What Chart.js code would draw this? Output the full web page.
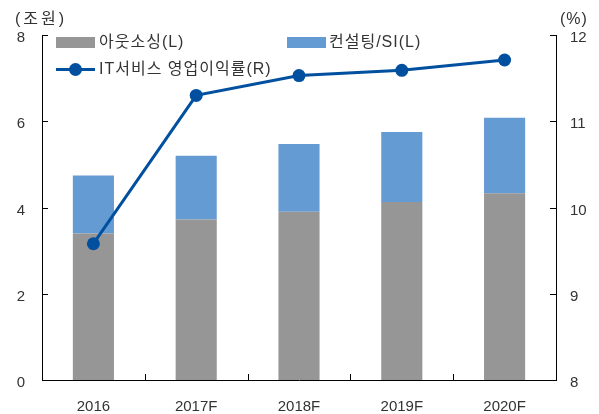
<!DOCTYPE html>
<html>
<head>
<meta charset="utf-8">
<script src="https://cdn.jsdelivr.net/npm/chart.js@4"></script>
<style>
  html, body { margin: 0; padding: 0; background: #fff; }
  #wrap { width: 599px; height: 414px; }
</style>
</head>
<body>
<div id="wrap"><canvas id="chart"></canvas></div>
<script>
// 데이터
const categories = ['2016', '2017F', '2018F', '2019F', '2020F'];
const outsourcing = [3.40, 3.72, 3.90, 4.13, 4.33];   // 아웃소싱 (조원)
const consulting = [1.34, 1.48, 1.57, 1.62, 1.75];    // 컨설팅/SI (조원)
const margin = [9.58, 11.30, 11.53, 11.59, 11.71];    // IT서비스 영업이익률 (%)
const leftTicks = [0, 2, 4, 6, 8];
const rightTicks = [8, 9, 10, 11, 12];

const FONT = '"Liberation Sans", Arial, "Noto Sans CJK KR", sans-serif';
const TXT = '#333333';
const GREY = '#969696';
const BLUE = '#659bd3';
const NAVY = '#00509f';

// 안쪽 눈금, 범례, 단위 표시
const decoPlugin = {
    id: 'deco',
    afterDraw(chart) {
        const ctx = chart.ctx;
        const x = chart.scales.x, y = chart.scales.y, y1 = chart.scales.y1;
        ctx.save();
        ctx.strokeStyle = '#000';
        ctx.lineWidth = 1;
        ctx.beginPath();
        leftTicks.forEach(v => {
            const py = Math.round(y.getPixelForValue(v)) + 0.5;
            ctx.moveTo(x.left, py); ctx.lineTo(x.left + 6, py);
        });
        rightTicks.forEach(v => {
            const py = Math.round(y1.getPixelForValue(v)) + 0.5;
            ctx.moveTo(x.right, py); ctx.lineTo(x.right - 6, py);
        });
        for (let i = 1; i < categories.length; i++) {
            const px = Math.round((x.getPixelForValue(i - 1) + x.getPixelForValue(i)) / 2) + 0.5;
            ctx.moveTo(px, y.bottom); ctx.lineTo(px, y.bottom - 6);
        }
        ctx.stroke();

        // 단위
        ctx.fillStyle = TXT;
        ctx.font = '16px ' + FONT;
        ctx.textBaseline = 'middle';
        ctx.textAlign = 'left';
        ctx.letterSpacing = '3px';
        ctx.fillText('(조원)', 15, 20);
        ctx.letterSpacing = '1px';
        ctx.fillText('(%)', 560, 20);

        // 범례
        const ds = chart.data.datasets;
        ctx.fillStyle = ds[0].backgroundColor;
        ctx.fillRect(56, 37, 39, 11);
        ctx.fillStyle = ds[1].backgroundColor;
        ctx.fillRect(287, 37, 39, 11);
        ctx.strokeStyle = ds[2].borderColor;
        ctx.lineWidth = 3;
        ctx.beginPath();
        ctx.moveTo(56, 69.5); ctx.lineTo(95, 69.5);
        ctx.stroke();
        ctx.fillStyle = ds[2].pointBackgroundColor;
        ctx.beginPath();
        ctx.arc(75.5, 69.5, 6.5, 0, Math.PI * 2);
        ctx.fill();

        ctx.fillStyle = TXT;
        ctx.fillText(ds[0].label, 99, 43);
        ctx.fillText(ds[1].label, 329, 43);
        ctx.fillText(ds[2].label, 99, 69.5);
        ctx.restore();
    }
};

new Chart(document.getElementById('chart'), {
    type: 'bar',
    data: {
        labels: categories,
        datasets: [
            { label: '아웃소싱(L)', data: outsourcing, backgroundColor: GREY, yAxisID: 'y', order: 1, stack: 's' },
            { label: '컨설팅/SI(L)', data: consulting, backgroundColor: BLUE, yAxisID: 'y', order: 1, stack: 's' },
            {
                type: 'line', label: 'IT서비스 영업이익률(R)', data: margin, yAxisID: 'y1', order: 0,
                borderColor: NAVY, borderWidth: 3, pointBackgroundColor: NAVY, pointBorderColor: NAVY,
                pointRadius: 6.5, pointBorderWidth: 0, tension: 0, clip: false
            }
        ]
    },
    options: {
        responsive: true,
        maintainAspectRatio: false,
        animation: false,
        layout: { padding: { top: 35, left: 0, right: 0, bottom: 0 } },
        datasets: { bar: { categoryPercentage: 1, barPercentage: 0.4 } },
        plugins: { legend: { display: false }, tooltip: { enabled: false } },
        scales: {
            x: {
                stacked: true,
                grid: { display: false, drawTicks: false },
                border: { display: true, color: '#000', width: 1 },
                ticks: { color: TXT, font: { family: FONT, size: 15 }, padding: 18, maxRotation: 0 },
                afterFit(s) { s.height = 34; }
            },
            y: {
                position: 'left', stacked: true, min: 0, max: 8,
                grid: { display: false, drawTicks: false },
                border: { display: true, color: '#000', width: 1 },
                ticks: { stepSize: 2, color: TXT, font: { family: FONT, size: 15 }, padding: 17, labelOffset: 3 },
                afterFit(s) { s.width = 42; }
            },
            y1: {
                position: 'right', min: 8, max: 12,
                grid: { display: false, drawTicks: false },
                border: { display: true, color: '#000', width: 1 },
                ticks: { stepSize: 1, color: TXT, font: { family: FONT, size: 15 }, padding: 14, labelOffset: 3 },
                afterFit(s) { s.width = 43; }
            }
        }
    },
    plugins: [decoPlugin]
});
</script>
</body>
</html>
